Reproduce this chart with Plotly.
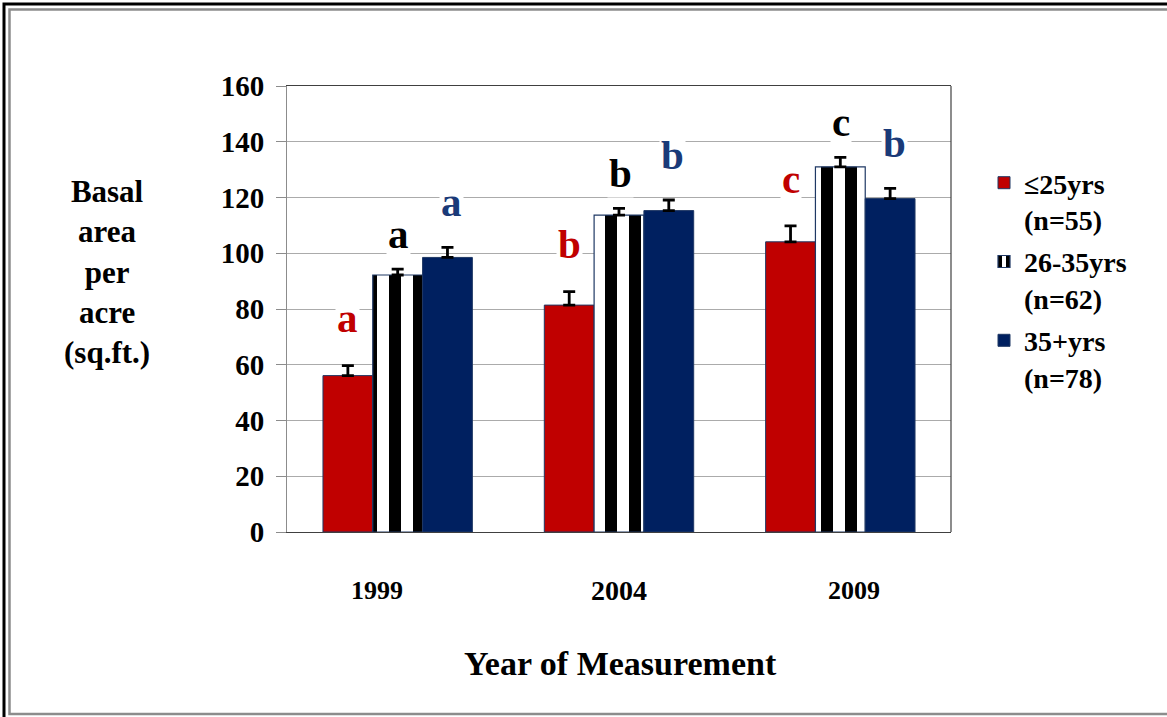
import plotly.graph_objects as go

# Measurement years and stand-age classes
years = ["1999", "2004", "2009"]
series_names = ["≤25yrs<br>(n=55)", "26-35yrs<br>(n=62)", "35+yrs<br>(n=78)"]

# Mean basal area per acre (sq.ft.) and upper standard error
basal_le25 = [56.1, 81.4, 104.1]
basal_26_35 = [92.2, 113.7, 131.0]
basal_35plus = [98.5, 115.3, 119.6]

err_le25 = [3.6, 4.8, 5.7]
err_26_35 = [2.1, 2.4, 3.4]
err_35plus = [3.6, 3.8, 3.7]

# Significance letters above each bar
letters_le25 = ["a", "b", "c"]
letters_26_35 = ["a", "b", "c"]
letters_35plus = ["a", "b", "b"]

y_ticks = [0, 20, 40, 60, 80, 100, 120, 140, 160]

# ---- styling ----
FONT = "Liberation Serif, Times New Roman, serif"
RED = "#C00000"
NAVY = "#002060"
EDGE = "#1F3864"
LETTER_NAVY = "#1A3A78"

W, H = 1167, 717
L, R, T, B = 287, 951, 86, 532  # plot area in pixels


def px(x):
    return (x - L) / (R - L)


def py(y):
    return (B - y) / (B - T)


fig = go.Figure()

err_style = dict(type="data", symmetric=False, color="black", thickness=2.8, width=6)

fig.add_trace(go.Bar(
    x=years, y=basal_le25, name=series_names[0], legendgroup="g1",
    marker=dict(color=RED, line=dict(color=EDGE, width=1)),
    error_y=dict(array=err_le25, arrayminus=[0] * len(years), **err_style),
))
fig.add_trace(go.Bar(
    x=years, y=basal_26_35, name=series_names[1], legendgroup="g2",
    marker=dict(color="white", line=dict(color=EDGE, width=1.2),
                pattern=dict(shape="|", size=24, solidity=0.5,
                             fgcolor="black", bgcolor="white", fillmode="replace")),
    error_y=dict(array=err_26_35, arrayminus=[0] * len(years), **err_style),
))
fig.add_trace(go.Bar(
    x=years, y=basal_35plus, name=series_names[2], legendgroup="g3",
    marker=dict(color=NAVY, line=dict(color=EDGE, width=1)),
    error_y=dict(array=err_35plus, arrayminus=[0] * len(years), **err_style),
))

annotations = []

# significance letters, sitting a little above each error bar
bar_px = 0.225 * (R - L) / 3
letter_sets = [
    (letters_le25, basal_le25, err_le25, RED, -bar_px, 8.0),
    (letters_26_35, basal_26_35, err_26_35, "black", 1, 3.8),
    (letters_35plus, basal_35plus, err_35plus, LETTER_NAVY, bar_px + 4, 7.3),
]
for letters, vals, errs, col, shift, gap in letter_sets:
    for i, (lt, v, e) in enumerate(zip(letters, vals, errs)):
        annotations.append(dict(
            x=i, y=v + e + gap, xref="x", yref="y", text=lt, showarrow=False,
            xshift=shift, yanchor="bottom", xanchor="center",
            bgcolor="white", borderpad=1,
            font=dict(family=FONT, size=41, color=col, weight="bold"),
        ))

# year labels under the axis
year_shift = [-21, 0, 14]
year_size = [26, 28, 26]
for i, (yr, sh, sz) in enumerate(zip(years, year_shift, year_size)):
    annotations.append(dict(
        x=i, y=py(590), xref="x", yref="paper", text=yr, showarrow=False,
        xshift=sh, yanchor="middle", xanchor="center",
        font=dict(family=FONT, size=sz, color="black", weight="bold"),
    ))

# axis titles
annotations.append(dict(
    x=px(620), y=py(663), xref="paper", yref="paper", text="Year of Measurement",
    showarrow=False, xanchor="center", yanchor="middle",
    font=dict(family=FONT, size=34, color="black", weight="bold"),
))
annotations.append(dict(
    x=px(107), y=py(272), xref="paper", yref="paper",
    text="Basal<br>area<br>per<br>acre<br>(sq.ft.)",
    showarrow=False, xanchor="center", yanchor="middle", align="center",
    font=dict(family=FONT, size=31, color="black", weight="bold"),
))

shapes = [
    # right border of the plot area
    dict(type="line", xref="paper", yref="paper", x0=1, x1=1, y0=0, y1=1,
         line=dict(color="#404040", width=1.2), layer="above"),
    # outer frame
    dict(type="rect", xref="paper", yref="paper",
         x0=px(4), x1=px(1175), y0=py(725), y1=py(4),
         line=dict(color="black", width=3), fillcolor="rgba(0,0,0,0)"),
    dict(type="rect", xref="paper", yref="paper",
         x0=px(9.5), x1=px(1175), y0=py(714), y1=py(9.5),
         line=dict(color="#8C8C8C", width=2.5), fillcolor="rgba(0,0,0,0)"),
]

fig.update_layout(
    width=W, height=H,
    margin=dict(l=L, r=W - R, t=T, b=H - B, pad=0),
    paper_bgcolor="white", plot_bgcolor="white",
    barmode="group", bargap=0.325, bargroupgap=0,
    font=dict(family=FONT, color="black", weight="bold"),
    showlegend=True,
    legend=dict(
        x=px(984), y=py(158), xanchor="left", yanchor="top",
        font=dict(family=FONT, size=28, color="black", weight="bold"),
        valign="top", tracegroupgap=3, itemwidth=30,
        bgcolor="rgba(0,0,0,0)",
    ),
    annotations=annotations,
    shapes=shapes,
)

fig.update_xaxes(
    type="category", range=[-0.5, 2.5], showticklabels=False, ticks="",
    showline=True, linecolor="#404040", linewidth=1.2, mirror=True,
    showgrid=False, zeroline=False,
)
fig.update_yaxes(
    range=[0, 160], tickvals=y_ticks, ticks="outside", ticklen=10,
    tickcolor="#8C8C8C", tickwidth=1,
    tickfont=dict(family=FONT, size=29, color="black", weight="bold"),
    ticklabelstandoff=6,
    showline=True, linecolor="#8C8C8C", linewidth=1,
    showgrid=True, gridcolor="#ABABAB", gridwidth=1, zeroline=False,
)

fig.write_html("out.html")
